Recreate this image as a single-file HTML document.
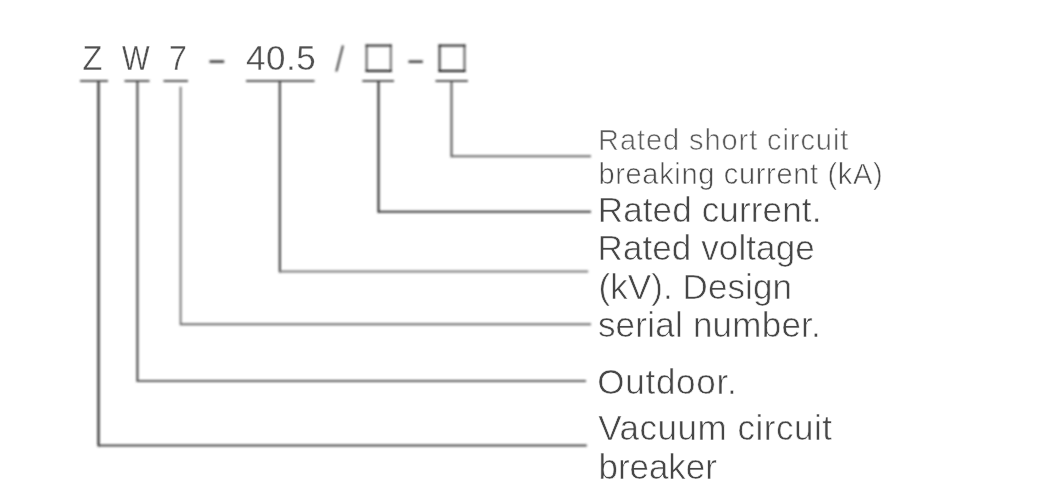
<!DOCTYPE html>
<html><head><meta charset="utf-8"><style>
html,body{margin:0;padding:0;background:#fff;width:1060px;height:486px;overflow:hidden}
svg{display:block}
text{font-family:"Liberation Sans",sans-serif;fill:#555}
</style></head><body>
<svg width="1060" height="486" viewBox="0 0 1060 486">
<defs><filter id="bl" filterUnits="userSpaceOnUse" x="0" y="0" width="1060" height="486"><feGaussianBlur stdDeviation="0.8"/></filter><filter id="gs" filterUnits="userSpaceOnUse" x="0" y="0" width="1060" height="486"><feOffset dx="0" dy="0"/></filter></defs>
<g font-size="35" filter="url(#gs)" style="fill:#505050">
<text style="fill:#505050" stroke="#fff" stroke-width="0.35" transform="translate(82.6 69.9) scale(0.928 1)">Z</text>
<text style="fill:#505050" stroke="#fff" stroke-width="0.35" transform="translate(122.1 69.9) scale(0.838 1)">W</text>
<text style="fill:#505050" stroke="#fff" stroke-width="0.35" transform="translate(169.1 69.9) scale(0.917 1)">7</text>
<text style="fill:#505050" stroke="#fff" stroke-width="0.35" x="246.05" y="69.9" letter-spacing="0.49">40.5</text>
</g>
<g fill="none" stroke-width="2" filter="url(#bl)" stroke-linecap="square">
<line x1="366.6" y1="45.56" x2="366.6" y2="70.9" stroke="#5d5d5d"/>
<line x1="390.8" y1="45.56" x2="390.8" y2="70.9" stroke="#6b6b6b"/>
<line x1="366.6" y1="45.56" x2="390.8" y2="45.56" stroke="#262626"/>
<line x1="366.6" y1="70.9" x2="390.8" y2="70.9" stroke="#111"/>
<line x1="439.56" y1="45.56" x2="439.56" y2="70.94" stroke="#373737"/>
<line x1="464.5" y1="45.56" x2="464.5" y2="70.94" stroke="#5d5d5d"/>
<line x1="439.56" y1="45.56" x2="464.5" y2="45.56" stroke="#262626"/>
<line x1="439.56" y1="70.94" x2="464.5" y2="70.94" stroke="#111"/>
<line x1="336.3" y1="71.5" x2="343" y2="45.6" stroke="#444" stroke-linecap="butt"/>
<line x1="209.5" y1="61.56" x2="224.2" y2="61.56" stroke="#333" stroke-width="2.4" stroke-linecap="butt"/>
<line x1="408.5" y1="61.66" x2="422.8" y2="61.66" stroke="#383838" stroke-width="2.4" stroke-linecap="butt"/>
</g>
<g stroke-width="2" fill="none" filter="url(#bl)" stroke-linecap="square">
<line x1="81" y1="81" x2="107" y2="81" stroke="#555"/>
<line x1="125.5" y1="81" x2="148.5" y2="81" stroke="#555"/>
<line x1="164.5" y1="81" x2="187" y2="81" stroke="#555"/>
<line x1="247" y1="81" x2="313.5" y2="81" stroke="#555"/>
<line x1="363.3" y1="81" x2="393" y2="81" stroke="#555"/>
<line x1="436.5" y1="81" x2="466.9" y2="81" stroke="#555"/>
<line x1="98.5" y1="82" x2="98.5" y2="445.5" stroke="#1a1a1a"/>
<line x1="137.4" y1="82" x2="137.4" y2="381.1" stroke="#3e3e3e"/>
<line x1="180.6" y1="87.8" x2="180.6" y2="324.2" stroke="#787878"/>
<line x1="279.8" y1="82" x2="279.8" y2="271.5" stroke="#373737"/>
<line x1="378.5" y1="82" x2="378.5" y2="211.8" stroke="#222"/>
<line x1="451.5" y1="82" x2="451.5" y2="156.3" stroke="#535353"/>
<line x1="99.5" y1="445.5" x2="585.8" y2="445.5" stroke="#444"/>
<line x1="138.4" y1="381.1" x2="585" y2="381.1" stroke="#5d5d5d"/>
<line x1="181.6" y1="324.2" x2="590" y2="324.2" stroke="#6a6a6a"/>
<line x1="280.8" y1="271.5" x2="587.2" y2="271.5" stroke="#787878"/>
<line x1="379.5" y1="211.8" x2="590" y2="211.8" stroke="#3b3b3b"/>
<line x1="452.5" y1="156.3" x2="590" y2="156.3" stroke="#6a6a6a"/>
</g>
<g filter="url(#gs)">
<text x="598.08" y="150" font-size="29" letter-spacing="0.92" style="fill:#5c5c5c" stroke="#fff" stroke-width="0.6">Rated short circuit</text>
<text x="598.41" y="183.5" font-size="29" letter-spacing="0.673" style="fill:#4d4d4d" stroke="#fff" stroke-width="0.6">breaking current (kA)</text>
<text x="597.72" y="221.5" font-size="35" letter-spacing="0.144" style="fill:#464646" stroke="#fff" stroke-width="0.6">Rated current.</text>
<text x="597.52" y="259.7" font-size="35" letter-spacing="0.1" style="fill:#464646" stroke="#fff" stroke-width="0.6">Rated voltage</text>
<text x="598.45" y="298.5" font-size="35" letter-spacing="0.088" style="fill:#464646" stroke="#fff" stroke-width="0.6">(kV). Design</text>
<text x="597.89" y="336.8" font-size="35" letter-spacing="0.239" style="fill:#464646" stroke="#fff" stroke-width="0.6">serial number.</text>
<text x="597.17" y="393.5" font-size="35" letter-spacing="0.771" style="fill:#464646" stroke="#fff" stroke-width="0.6">Outdoor.</text>
<text x="598.19" y="440" font-size="35" letter-spacing="0.527" style="fill:#464646" stroke="#fff" stroke-width="0.6">Vacuum circuit</text>
<text x="598.47" y="478.5" font-size="35" letter-spacing="-0.055" style="fill:#464646" stroke="#fff" stroke-width="0.6">breaker</text>
</g>
</svg>
</body></html>
